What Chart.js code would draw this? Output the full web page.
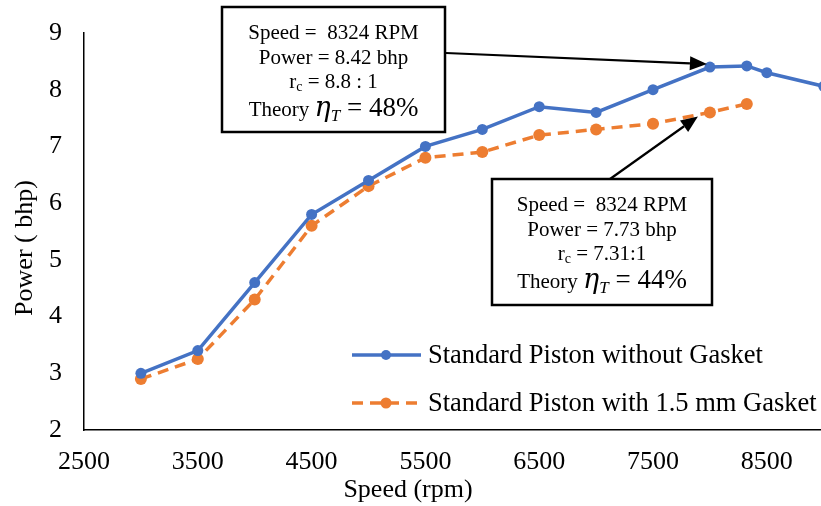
<!DOCTYPE html>
<html>
<head>
<meta charset="utf-8">
<script src="https://cdn.jsdelivr.net/npm/chart.js@4.4.0/dist/chart.umd.min.js"></script>
<style>
  html, body { margin: 0; padding: 0; background: #fff; }
  #wrap { width: 821px; height: 506px; }
</style>
</head>
<body>
<div id="wrap"><canvas id="powerChart"></canvas></div>
<script>
// data
const speedNoGasket = [3000, 3500, 4000, 4500, 5000, 5500, 6000, 6500, 7000, 7500, 8000, 8324, 8500, 9000];
const powerNoGasket = [3.0, 3.4, 4.6, 5.8, 6.4, 7.0, 7.3, 7.7, 7.6, 8.0, 8.4, 8.42, 8.3, 8.06];
const speedGasket = [3000, 3500, 4000, 4500, 5000, 5500, 6000, 6500, 7000, 7500, 8000, 8324];
const powerGasket = [2.9, 3.25, 4.3, 5.6, 6.3, 6.8, 6.9, 7.2, 7.3, 7.4, 7.6, 7.75];
const seriesNames = ['Standard Piston without Gasket', 'Standard Piston with 1.5 mm Gasket'];
const xTicks = [2500, 3500, 4500, 5500, 6500, 7500, 8500];
const yTicks = [2, 3, 4, 5, 6, 7, 8, 9];

const SERIF = '"Liberation Serif", "Times New Roman", serif';

function toPoints(xs, ys) {
    return xs.map((v, i) => ({ x: v, y: ys[i] }));
}

// draws a row of text runs centred on cx
function drawRuns(ctx, runs, cx, cy) {
    let total = 0;
    runs.forEach(r => { ctx.font = r.font; total += ctx.measureText(r.text).width; });
    let cur = cx - total / 2;
    ctx.textAlign = 'left';
    ctx.textBaseline = 'alphabetic';
    runs.forEach(r => {
        ctx.font = r.font;
        ctx.fillText(r.text, cur, cy + (r.dy || 0));
        cur += ctx.measureText(r.text).width;
    });
}

function drawBox(ctx, left, top, w, h, rows) {
    ctx.fillStyle = '#fff';
    ctx.fillRect(left, top, w, h);
    ctx.lineWidth = 2.5;
    ctx.strokeStyle = '#000';
    ctx.strokeRect(left, top, w, h);
    ctx.fillStyle = '#000';
    rows.forEach(row => drawRuns(ctx, row.runs, left + w / 2, row.y));
}

function drawArrow(ctx, x0, y0, x1, y1) {
    const ang = Math.atan2(y1 - y0, x1 - x0);
    const len = 17, half = 7;
    const bx = x1 - len * Math.cos(ang), by = y1 - len * Math.sin(ang);
    ctx.strokeStyle = '#000';
    ctx.lineWidth = 2.2;
    ctx.beginPath();
    ctx.moveTo(x0, y0);
    ctx.lineTo(bx, by);
    ctx.stroke();
    ctx.fillStyle = '#000';
    ctx.beginPath();
    ctx.moveTo(x1, y1);
    ctx.lineTo(bx + half * Math.sin(ang), by - half * Math.cos(ang));
    ctx.lineTo(bx - half * Math.sin(ang), by + half * Math.cos(ang));
    ctx.closePath();
    ctx.fill();
}

function infoRows(top, power, ratio, eff) {
    const base = '21px ' + SERIF;
    return [
        { y: top + 32, runs: [{ text: 'Speed =  8324 RPM', font: base }] },
        { y: top + 57, runs: [{ text: 'Power = ' + power + ' bhp', font: base }] },
        { y: top + 81, runs: [
            { text: 'r', font: base },
            { text: 'c', font: '14px ' + SERIF, dy: 3 },
            { text: ' = ' + ratio, font: base }
        ] },
        { y: top + 109, runs: [
            { text: 'Theory ', font: base },
            { text: 'η', font: 'italic 27px "DejaVu Serif", serif' },
            { text: 'T', font: 'italic 17px ' + SERIF, dy: 5 },
            { text: ' = ' + eff, font: '27px ' + SERIF }
        ] }
    ];
}

// keep the plot area fixed: labels may overhang the edges
function noScalePadding(axis) {
    axis.paddingTop = 0;
    axis.paddingBottom = 0;
    axis.paddingLeft = 0;
    axis.paddingRight = 0;
}

const overlayPlugin = {
    id: 'overlay',
    afterDraw(chart) {
        const { ctx, scales: { x, y } } = chart;
        ctx.save();

        // axis titles
        ctx.fillStyle = '#000';
        ctx.font = '26px ' + SERIF;
        ctx.textAlign = 'center';
        ctx.textBaseline = 'middle';
        ctx.fillText('Speed (rpm)', 408, 490);
        ctx.save();
        ctx.translate(25, 248);
        ctx.rotate(-Math.PI / 2);
        ctx.fillText('Power ( bhp)', 0, 0);
        ctx.restore();

        // legend inside the plot
        chart.data.datasets.forEach((ds, i) => {
            const ly = 355 + i * 48;
            ctx.strokeStyle = ds.borderColor;
            ctx.lineWidth = ds.borderWidth;
            ctx.setLineDash(ds.borderDash || []);
            ctx.beginPath();
            ctx.moveTo(352, ly);
            ctx.lineTo(421, ly);
            ctx.stroke();
            ctx.setLineDash([]);
            ctx.fillStyle = ds.pointBackgroundColor;
            ctx.beginPath();
            ctx.arc(386, ly, ds.pointRadius - 0.5, 0, Math.PI * 2);
            ctx.fill();
            ctx.fillStyle = '#000';
            ctx.font = '26.5px ' + SERIF;
            ctx.textAlign = 'left';
            ctx.textBaseline = 'middle';
            ctx.fillText(ds.label, 428, ly + 1);
        });

        // callouts
        drawArrow(ctx, 446, 53, x.getPixelForValue(8000) - 3, y.getPixelForValue(8.4) - 3);
        drawArrow(ctx, 603, 184, x.getPixelForValue(8000) - 12, y.getPixelForValue(7.6) + 4);
        drawBox(ctx, 222, 7, 223, 125, infoRows(7, '8.42', '8.8 : 1', '48%'));
        drawBox(ctx, 492, 179, 220, 126, infoRows(179, '7.73', '7.31:1', '44%'));

        ctx.restore();
    }
};

new Chart(document.getElementById('powerChart').getContext('2d'), {
    type: 'line',
    data: {
        datasets: [{
            label: seriesNames[0],
            data: toPoints(speedNoGasket, powerNoGasket),
            borderColor: '#4472C4',
            backgroundColor: '#4472C4',
            pointBackgroundColor: '#4472C4',
            pointBorderWidth: 0,
            pointRadius: 5.5,
            borderWidth: 3.5,
            clip: 0,
            fill: false,
            tension: 0
        }, {
            label: seriesNames[1],
            data: toPoints(speedGasket, powerGasket),
            borderColor: '#ED7D31',
            backgroundColor: '#ED7D31',
            pointBackgroundColor: '#ED7D31',
            pointBorderWidth: 0,
            pointRadius: 6,
            borderWidth: 3.5,
            borderDash: [11, 7],
            fill: false,
            tension: 0
        }]
    },
    options: {
        responsive: true,
        maintainAspectRatio: false,
        animation: false,
        layout: { autoPadding: false, padding: { top: 33, right: 0, bottom: 0, left: 0 } },
        plugins: {
            legend: { display: false },
            tooltip: { enabled: false }
        },
        scales: {
            x: {
                type: 'linear',
                min: 2500,
                max: 8976,
                grid: { display: false, drawTicks: false },
                border: { display: true, color: '#000', width: 1.5 },
                afterBuildTicks: axis => { axis.ticks = xTicks.map(v => ({ value: v })); },
                afterFit: axis => { axis.height = 76; noScalePadding(axis); },
                ticks: {
                    color: '#000',
                    padding: 17,
                    maxRotation: 0,
                    autoSkip: false,
                    callback: v => String(v),
                    font: { family: SERIF, size: 26 }
                }
            },
            y: {
                min: 2,
                max: 9,
                grid: { display: false, drawTicks: false },
                border: { display: true, color: '#000', width: 1.5 },
                afterBuildTicks: axis => { axis.ticks = yTicks.map(v => ({ value: v })); },
                afterFit: axis => { axis.width = 84; noScalePadding(axis); },
                ticks: {
                    color: '#000',
                    padding: 22,
                    callback: v => String(v),
                    font: { family: SERIF, size: 26 }
                }
            }
        }
    },
    plugins: [overlayPlugin]
});
</script>
</body>
</html>
